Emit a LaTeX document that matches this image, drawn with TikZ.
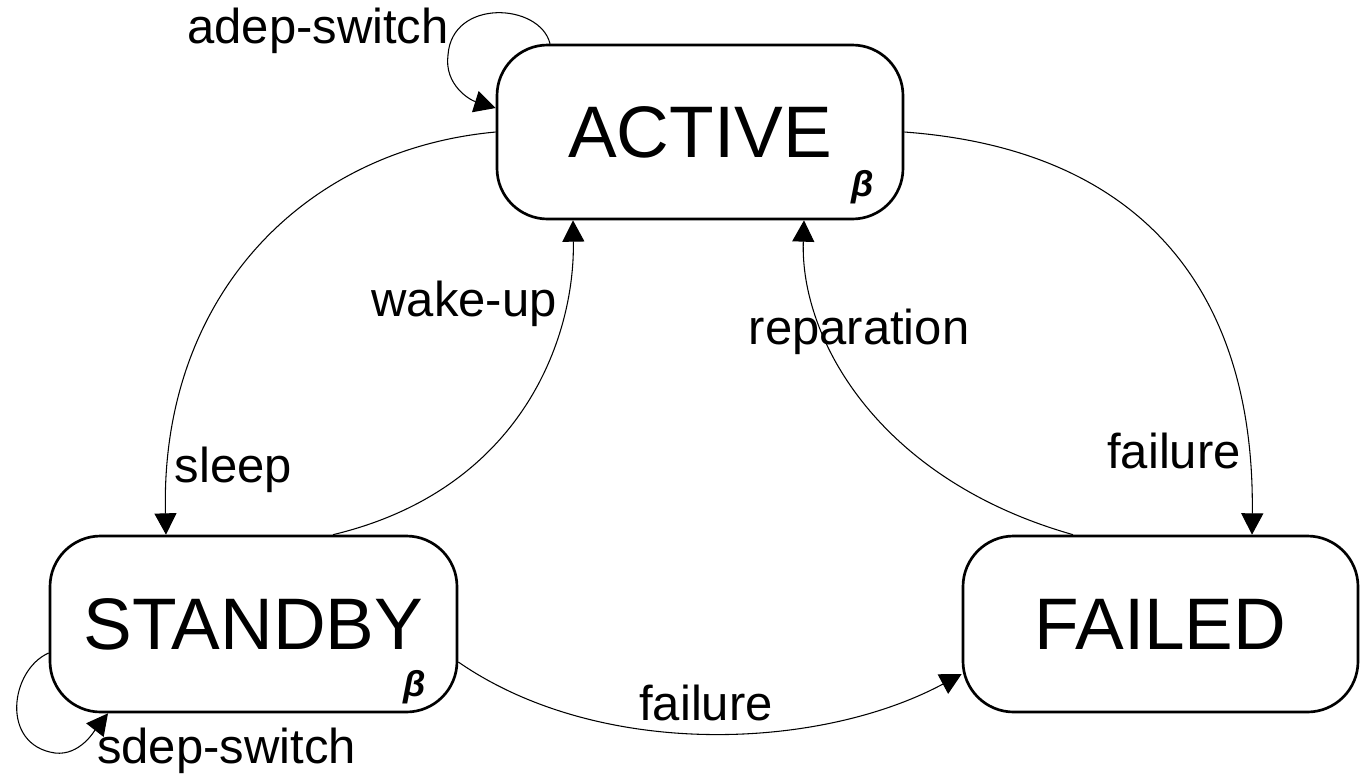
\documentclass[tikz,border=0pt]{standalone}
\usepackage{fontspec}
\setmainfont{Liberation Sans}
\usetikzlibrary{arrows.meta,calc}
\begin{document}
\begin{tikzpicture}[x=0.75pt,y=-0.75pt,
  state/.style={draw,line width=2pt,rounded corners=38pt,inner sep=0pt,
    font=\fontsize{54.75}{60}\selectfont},
  conn/.style={line width=0.8pt,-{Triangle[length=16pt,width=16.5pt]}},
  lbl/.style={font=\fontsize{36.75}{40}\selectfont,inner sep=0pt,anchor=base},
  betamark/.style={font=\fontsize{27}{30}\selectfont\bfseries\itshape,inner sep=0pt}]
\useasboundingbox[fill=white] (0,0) rectangle (1360,775);

% states
\node[state,minimum width=304.5pt,minimum height=130.5pt] (A) at (700,132) {ACTIVE};
\node[state,minimum width=305.25pt,minimum height=132pt] (S) at (253.5,624) {STANDBY};
\node[state,minimum width=296.25pt,minimum height=132pt] (F) at (1160.5,624) {FAILED};
\node[betamark] (betaA) at (863,187) {β};
\node[betamark] (betaS) at (415,687) {β};

% self loops
\draw[conn] ($(A.north)+(-150,0)$) .. controls (540,3) and (452,-2) .. (448,55)
  .. controls (444,85) and (470,100) .. ($(A.west)+(0,-24)$);
\draw[conn] ($(S.west)+(0,29)$) .. controls (10,670) and (0,745) .. (55,753)
  .. controls (80,756) and (95,730) .. ($(S.south)+(-145.5,0)$);

% transitions
\draw[conn] (A.west) .. controls (300,150) and (160,300) .. ($(S.north)+(-87.5,0)$);
\draw[conn] ($(S.north)+(79.5,0)$) .. controls (520,490) and (575,340) .. ($(A.south)+(-127,0)$);
\draw[conn] ($(F.north)+(-87.5,0)$) .. controls (880,480) and (800,340) .. ($(A.south)+(104,0)$);
\draw[conn] (A.east) .. controls (1150,150) and (1255,300) .. ($(F.north)+(91.5,0)$);
\draw[conn] ($(S.east)+(0,38)$) .. controls (600,760) and (820,750) .. ($(F.west)+(0,50)$);

% labels
\node[lbl] (ladep) at (318,43) {adep-switch};
\node[lbl] (lsdep) at (226.5,763) {sdep-switch};
\node[lbl] (lsleep) at (233.5,482) {sleep};
\node[lbl] (lwake) at (464,316) {wake-up};
\node[lbl] (lrep) at (859,344) {reparation};
\node[lbl] (lfail1) at (1174,468) {failure};
\node[lbl] (lfail2) at (706,720) {failure};
\end{tikzpicture}
\end{document}
